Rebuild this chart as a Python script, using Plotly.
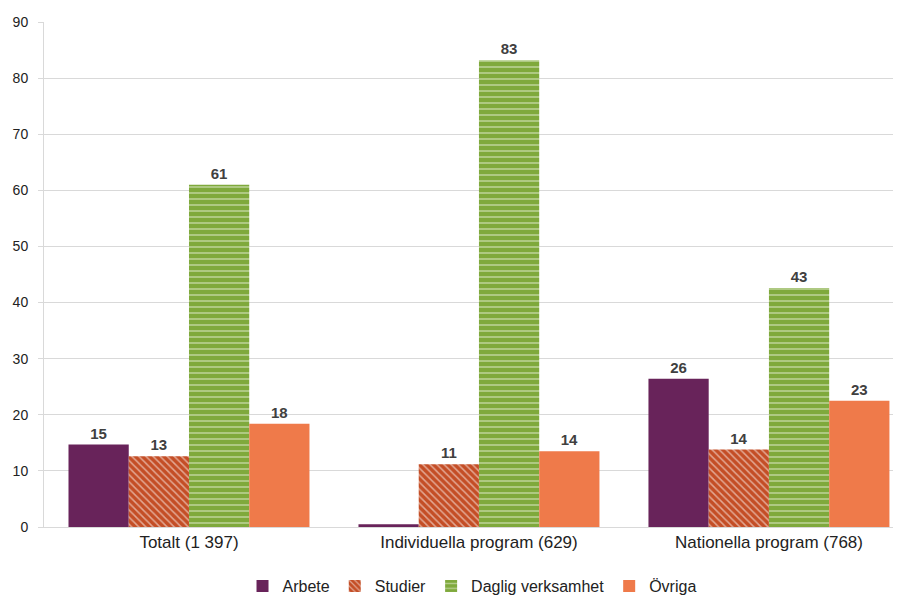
import plotly.graph_objects as go

categories = ["Totalt (1 397)", "Individuella program (629)", "Nationella program (768)"]
series_names = ["Arbete", "Studier", "Daglig verksamhet", "Övriga"]
arbete = [14.7, 0.5, 26.4]
studier = [12.6, 11.2, 13.8]
daglig = [61.0, 83.2, 42.6]
ovriga = [18.4, 13.5, 22.5]
arbete_labels = ["15", "", "26"]
studier_labels = ["13", "11", "14"]
daglig_labels = ["61", "83", "43"]
ovriga_labels = ["18", "14", "23"]

colors = ["#68235A", "#C44E26", "#7FA93C", "#EF7A4A"]
patterns = [None, dict(shape="\\", fgcolor="white", size=5, solidity=0.3),
            dict(shape="-", fgcolor="#E8F0D8", size=6, solidity=0.3), None]

fig = go.Figure()
for name, vals, labs, col, pat in zip(series_names, [arbete, studier, daglig, ovriga],
                                      [arbete_labels, studier_labels, daglig_labels, ovriga_labels],
                                      colors, patterns):
    marker = dict(color=col, line=dict(width=0))
    if pat:
        marker["pattern"] = pat
    fig.add_trace(go.Bar(
        x=categories, y=vals, name=name, marker=marker,
        text=labs, textposition="outside", cliponaxis=False,
        textfont=dict(family="Liberation Sans, Arial", size=15, color="#404040", weight="bold"),
    ))

fig.update_layout(
    barmode="group", bargap=0.169, bargroupgap=0,
    width=901, height=595,
    margin=dict(l=36, r=0, t=14, b=76, autoexpand=False),
    paper_bgcolor="white", plot_bgcolor="white",
    font=dict(family="Liberation Sans, Arial", color="#222222"),
    legend=dict(orientation="h", x=0.515, xanchor="center", xref="container",
                y=0.0, yanchor="bottom", yref="container",
                font=dict(size=16), traceorder="normal"),
    showlegend=True,
)
fig.update_yaxes(range=[0, 90], dtick=10, showgrid=True, gridcolor="#D9D9D9", gridwidth=1,
                 showline=True, linecolor="#D9D9D9", ticks="outside", tickcolor="#D9D9D9",
                 ticklen=5, tickfont=dict(size=14, color="#222222"), zeroline=False,
                 ticklabelstandoff=7, automargin=False)
fig.update_xaxes(range=[-0.5, 2.483], showline=True, linecolor="#D9D9D9",
                 tickfont=dict(size=17, color="#222222"), ticks="", automargin=False)

fig.write_html("out.html")
